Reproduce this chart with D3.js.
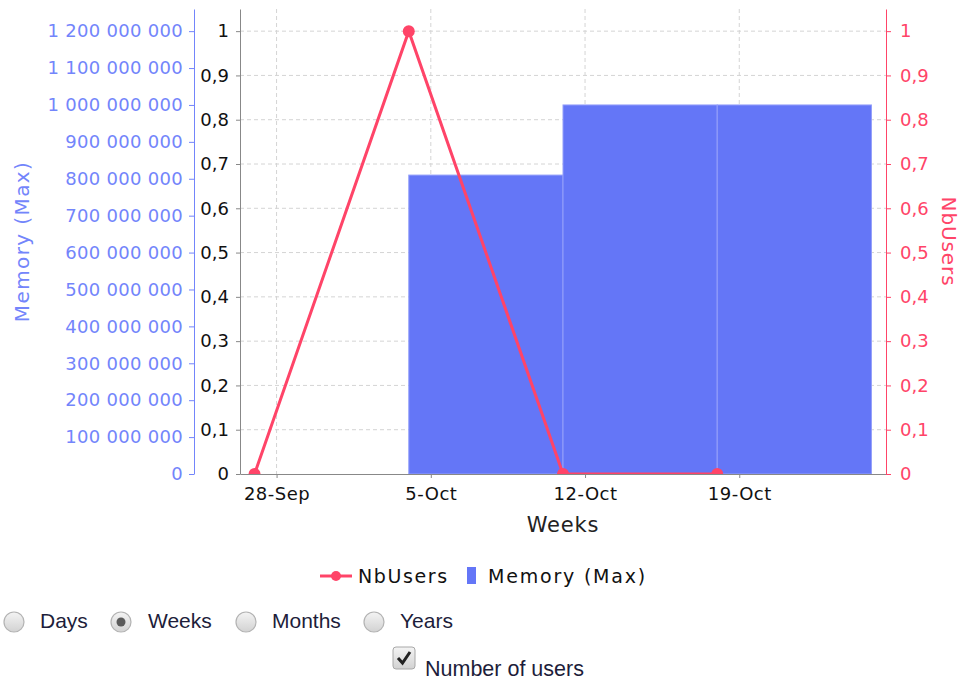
<!DOCTYPE html>
<html>
<head>
<meta charset="utf-8">
<script src="https://cdn.jsdelivr.net/npm/d3@7"></script>
<style>
  body { margin: 0; background: #fff; }
</style>
</head>
<body>
<div id="chart"></div>
<script>
// Data

const weeks = ["2015-09-27", "2015-10-04", "2015-10-11", "2015-10-18"];
const nbUsers = [0, 1, 0, 0];
const memoryMax = [0, 810000000, 1000000000, 1000000000];
const periods = ["Days", "Weeks", "Months", "Years"];
const selectedPeriod = "Weeks";
const optionLabel = "Number of users";

// Set dimensions and margins for the chart

const margin = { top: 9, right: 77, bottom: 207, left: 240 };
const width = 963 - margin.left - margin.right;
const height = 681 - margin.top - margin.bottom;

const blue = "#6476f7";
const blueText = "#7385fb";
const red = "#ff4468";
const font = "DejaVu Sans";

const parseDate = d3.utcParse("%Y-%m-%d");
const data = weeks.map((w, i) => ({
    week: parseDate(w),
    users: nbUsers[i],
    memory: memoryMax[i]
}));

// scales

const pad = 0.66 * 864e5;
const x = d3.scaleUtc()
    .domain([+data[0].week - pad, +d3.utcWeek.offset(data[data.length - 1].week, 1) + pad])
    .range([0, width]);

const y = d3.scaleLinear().domain([0, 1.05]).range([height, 0]);
const yUsers = d3.scaleLinear().domain([0, 1.05]).range([height, 0]);
const yMem = d3.scaleLinear().domain([0, 1.26e9]).range([height, 0]);

const locale = d3.formatLocale({ decimal: ",", thousands: " ", grouping: [3], currency: ["", ""] });
const fmtDec = locale.format(".1~f");
const fmtMem = locale.format(",");

const svg = d3.select("#chart")
    .append("svg")
        .attr("width", width + margin.left + margin.right)
        .attr("height", height + margin.top + margin.bottom)
        .style("font-family", font);

const defs = svg.append("defs");
defs.append("clipPath").attr("id", "plot")
    .append("rect").attr("width", width).attr("height", height);

const g = svg.append("g")
    .attr("transform", `translate(${margin.left},${margin.top})`);

// gridlines
g.selectAll(".yGrid")
    .data(y.ticks(10).slice(1))
    .join("line")
    .attr("x1", 0).attr("x2", width)
    .attr("y1", d => y(d)).attr("y2", d => y(d))
    .attr("stroke", "#d4d4d4")
    .attr("stroke-dasharray", "4,3");

g.selectAll(".xGrid")
    .data(x.ticks(d3.utcMonday.every(1)))
    .join("line")
    .attr("x1", d => x(d)).attr("x2", d => x(d))
    .attr("y1", 0).attr("y2", height)
    .attr("stroke", "#d4d4d4")
    .attr("stroke-dasharray", "4,3");

const plot = g.append("g").attr("clip-path", "url(#plot)");

// bars (memory)
plot.selectAll(".bar")
    .data(data)
    .join("rect")
    .attr("x", d => x(d.week))
    .attr("width", d => x(d3.utcWeek.offset(d.week, 1)) - x(d.week))
    .attr("y", d => yMem(d.memory))
    .attr("height", d => height - yMem(d.memory))
    .attr("fill", blue)
    .attr("stroke", "#94a0fa")
    .attr("stroke-width", 1);

// axes
function styleAxis(sel, color, size) {
    sel.attr("font-family", font).attr("font-size", size);
    sel.select(".domain").attr("stroke", color);
    sel.selectAll(".tick line").attr("stroke", color);
}

const xAxis = g.append("g")
    .attr("transform", `translate(0,${height})`)
    .call(d3.axisBottom(x)
        .ticks(d3.utcMonday.every(1))
        .tickFormat(d3.utcFormat("%-d-%b"))
        .tickSize(4).tickSizeOuter(0).tickPadding(9));
styleAxis(xAxis, "#888", 18);
xAxis.selectAll("text").attr("fill", "#111").attr("letter-spacing", 0.5);

const yAxis = g.append("g")
    .call(d3.axisLeft(y).ticks(10).tickFormat(fmtDec)
        .tickSize(4).tickSizeOuter(0).tickPadding(7));
styleAxis(yAxis, "#888", 18);
yAxis.selectAll("text").attr("fill", "#111");

const memAxis = g.append("g")
    .attr("transform", "translate(-46,0)")
    .call(d3.axisLeft(yMem).ticks(12).tickFormat(fmtMem)
        .tickSize(5).tickSizeOuter(0).tickPadding(6));
styleAxis(memAxis, "#7385fb", 18);
memAxis.selectAll("text").attr("fill", blueText).attr("letter-spacing", 0.3);

const usersAxis = g.append("g")
    .attr("transform", `translate(${width},0)`)
    .call(d3.axisRight(yUsers).ticks(10).tickFormat(fmtDec)
        .tickSize(5).tickSizeOuter(0).tickPadding(9));
styleAxis(usersAxis, red, 18);
usersAxis.selectAll("text").attr("fill", red);

// axis titles
g.append("text")
    .attr("x", width / 2).attr("y", height + 58)
    .attr("text-anchor", "middle")
    .attr("font-size", 21).attr("letter-spacing", 0.8)
    .attr("fill", "#222")
    .text("Weeks");

svg.append("text")
    .attr("transform", `translate(29,${margin.top + height / 2}) rotate(-90)`)
    .attr("text-anchor", "middle")
    .attr("font-size", 20).attr("letter-spacing", 1.4)
    .attr("fill", blueText)
    .text("Memory (Max)");

svg.append("text")
    .attr("transform", `translate(942,${margin.top + height / 2}) rotate(90)`)
    .attr("text-anchor", "middle")
    .attr("font-size", 20).attr("letter-spacing", 0.9)
    .attr("fill", red)
    .text("NbUsers");

// line (users)
const line = d3.line()
    .x(d => x(d.week))
    .y(d => yUsers(d.users));

plot.append("path")
    .datum(data)
    .attr("fill", "none")
    .attr("stroke", red)
    .attr("stroke-width", 3)
    .attr("d", line);

plot.selectAll(".pt")
    .data(data)
    .join("circle")
    .attr("cx", d => x(d.week))
    .attr("cy", d => yUsers(d.users))
    .attr("r", 6)
    .attr("fill", red);

// legend
const legend = svg.append("g").attr("transform", "translate(0,576)");
legend.append("line")
    .attr("x1", 320).attr("x2", 352)
    .attr("stroke", red).attr("stroke-width", 3);
legend.append("circle").attr("cx", 336).attr("r", 5).attr("fill", red);
legend.append("text")
    .attr("x", 358).attr("y", 7)
    .attr("font-size", 19).attr("letter-spacing", 1.6)
    .attr("fill", "#111")
    .text("NbUsers");
legend.append("rect")
    .attr("x", 467).attr("y", -9).attr("width", 9).attr("height", 17)
    .attr("fill", blue);
legend.append("text")
    .attr("x", 488).attr("y", 7)
    .attr("font-size", 19).attr("letter-spacing", 1.8)
    .attr("fill", "#111")
    .text("Memory (Max)");

// controls
const grad = defs.append("linearGradient")
    .attr("id", "ctrl").attr("x1", 0).attr("y1", 0).attr("x2", 0).attr("y2", 1);
grad.append("stop").attr("offset", "0%").attr("stop-color", "#f4f4f4");
grad.append("stop").attr("offset", "100%").attr("stop-color", "#d2d2d2");

const radioX = [14, 121, 246, 374];
const labelX = [40, 148, 272, 400];

const radios = svg.append("g").attr("transform", "translate(0,622)");
radios.selectAll("circle.r")
    .data(periods)
    .join("circle")
    .attr("cx", (d, i) => radioX[i])
    .attr("r", 10)
    .attr("fill", "url(#ctrl)")
    .attr("stroke", "#b3b3b3")
    .attr("stroke-width", 1.2);
radios.selectAll("circle.dot")
    .data(periods.filter(p => p === selectedPeriod))
    .join("circle")
    .attr("cx", d => radioX[periods.indexOf(d)])
    .attr("r", 4.5)
    .attr("fill", "#5a5a5a");
radios.selectAll("text")
    .data(periods)
    .join("text")
    .attr("x", (d, i) => labelX[i])
    .attr("y", 6)
    .attr("font-family", "Liberation Sans, Arial, sans-serif")
    .attr("font-size", 21)
    .attr("fill", "#1d1d3a")
    .text(d => d);

const check = svg.append("g").attr("transform", "translate(393,647)");
check.append("rect")
    .attr("width", 22).attr("height", 22).attr("rx", 3)
    .attr("fill", "url(#ctrl)")
    .attr("stroke", "#a8a8a8");
check.append("path")
    .attr("d", "M5,11 L9.5,16 L17,5")
    .attr("fill", "none")
    .attr("stroke", "#222")
    .attr("stroke-width", 3);
svg.append("text")
    .attr("x", 425).attr("y", 676)
    .attr("font-family", "Liberation Sans, Arial, sans-serif")
    .attr("font-size", 21.5)
    .attr("fill", "#1d1d3a")
    .text(optionLabel);
</script>
</body>
</html>
